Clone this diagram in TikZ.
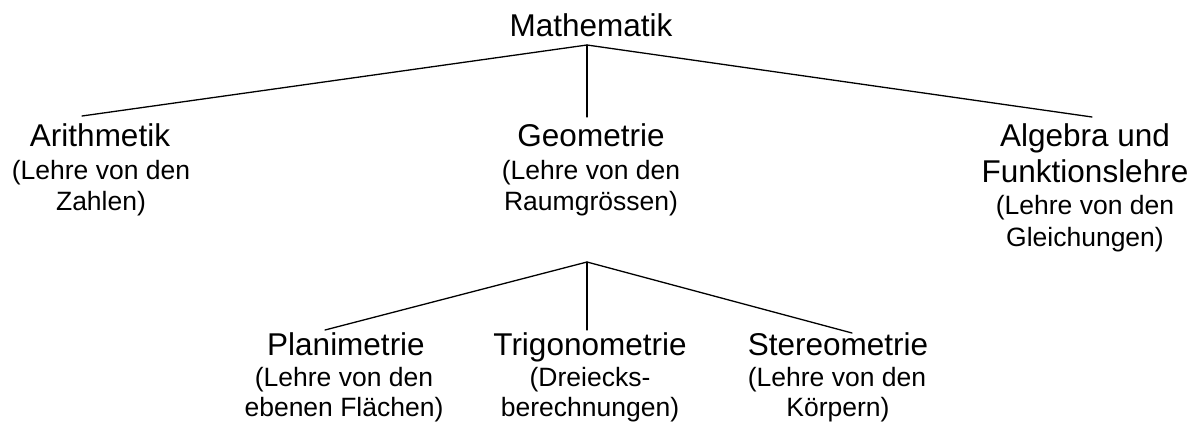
\documentclass[tikz,border=0pt]{standalone}
\usepackage{fontspec}
\setmainfont{Liberation Sans}
\begin{document}
\begin{tikzpicture}[x=1pt,y=-1pt,
  big/.style={anchor=base,inner sep=0pt,font=\fontsize{31.5}{36}\selectfont},
  small/.style={anchor=base,inner sep=0pt,font=\fontsize{26.5}{32}\selectfont},
  branch/.style={line width=1.3pt,line cap=round,line join=miter}]
\useasboundingbox (0,0) rectangle (1200,426);
% level 0
\node[big] (math) at (591,36) {Mathematik};
% level 1
\node[big]   (arith)  at (100,146) {Arithmetik};
\node[small] (arith1) at (101,179) {(Lehre von den};
\node[small] (arith2) at (101,210) {Zahlen)};
\node[big]   (geo)  at (591,146) {Geometrie};
\node[small] (geo1) at (591,179) {(Lehre von den};
\node[small] (geo2) at (591,210) {Raumgrössen)};
\node[big]   (alg)  at (1085,146) {Algebra und};
\node[big]   (alg1) at (1085,182) {Funktionslehre};
\node[small] (alg2) at (1085,214) {(Lehre von den};
\node[small] (alg3) at (1085,246) {Gleichungen)};
% level 2
\node[big]   (plan)  at (346,355) {Planimetrie};
\node[small] (plan1) at (344,386) {(Lehre von den};
\node[small] (plan2) at (344,416) {ebenen Flächen)};
\node[big]   (trig)  at (590,355) {Trigonometrie};
\node[small] (trig1) at (590,386) {(Dreiecks-};
\node[small] (trig2) at (590,416) {berechnungen)};
\node[big]   (stereo)  at (838,355) {Stereometrie};
\node[small] (stereo1) at (837,386) {(Lehre von den};
\node[small] (stereo2) at (838,416) {Körpern)};
% connector points
\coordinate (mtop) at (587,45);
\coordinate (arithE) at (82,116);
\coordinate (geoE) at (587,117);
\coordinate (algE) at (1092,117);
\coordinate (gtop) at (587,262);
\coordinate (planE) at (325,330);
\coordinate (trigE) at (587,330);
\coordinate (stereoE) at (852,333);
\draw[branch] (arithE) -- (mtop) -- (algE);
\draw[branch] (mtop) -- (geoE);
\draw[branch] (planE) -- (gtop) -- (stereoE);
\draw[branch] (gtop) -- (trigE);
\end{tikzpicture}
\end{document}
